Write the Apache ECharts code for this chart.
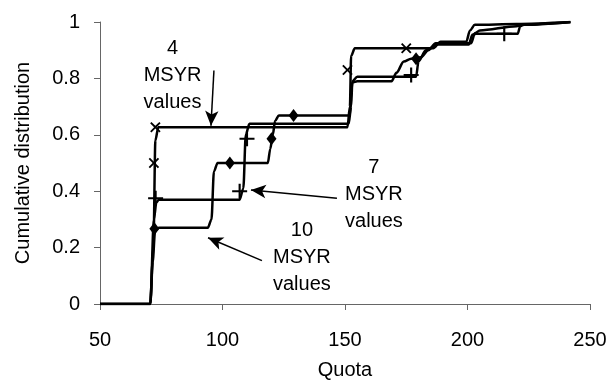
<!DOCTYPE html>
<html>
<head>
<meta charset="utf-8">
<script src="https://cdn.jsdelivr.net/npm/echarts@6/dist/echarts.min.js"></script>
<style>
  html, body { margin: 0; padding: 0; background: #fff; }
  #chart { width: 612px; height: 385px; }
</style>
</head>
<body>
<div id="chart"></div>
<script>
// x ticks 50..250, y ticks 0..1
var xTicks = [50, 100, 150, 200, 250];
var yTicks = [0, 0.2, 0.4, 0.6, 0.8, 1];

// cumulative distributions [quota, probability]
var curve4 = [[50,0],[70.5,0],[71.8,0.2],[72.6,0.58],[73.8,0.627],[151,0.627],[152,0.7],[152.5,0.88],[154,0.907],[186,0.907],[189,0.93],[199.5,0.93],[201,0.97],[203,0.99],[220,0.993],[242,1]];
var curve7 = [[50,0],[70.5,0],[72,0.3],[73,0.36],[74,0.37],[107,0.37],[108.5,0.41],[109.5,0.6],[111,0.639],[151.5,0.639],[152.5,0.7],[153,0.79],[155,0.806],[179,0.806],[180,0.86],[183,0.9],[188,0.92],[200.5,0.92],[202,0.955],[203.5,0.958],[220.5,0.958],[221.5,0.985],[223,0.99],[242,1]];
var curve10 = [[50,0],[70.5,0],[71.5,0.15],[72.5,0.26],[74,0.27],[94,0.27],[95.5,0.3],[96.5,0.47],[98,0.5],[118.5,0.5],[119.5,0.55],[120.5,0.6],[121.5,0.65],[123,0.668],[152,0.668],[152.5,0.75],[153,0.785],[155,0.79],[169,0.79],[171,0.82],[174,0.86],[177,0.87],[181,0.875],[184,0.9],[187,0.925],[201.5,0.925],[203,0.96],[205,0.97],[220,0.985],[222,0.99],[242,1]];

// marker points
var marks4 = [[72.6,0.627],[72,0.5],[151,0.83],[175,0.907]];
var marks7 = [[72.7,0.375],[107,0.4],[110,0.586],[177,0.812],[215,0.958]];
var marks10 = [[72.2,0.267],[103,0.5],[120,0.586],[129,0.668],[179,0.87]];

// annotations
var noteLabels = ['4\nMSYR\nvalues', '7\nMSYR\nvalues', '10\nMSYR\nvalues'];
var notePos = [[79.6,0.81],[161.8,0.39],[132.4,0.165]];
var arrows = [
  [[96.5,0.828],[95.3,0.632]],
  [[146.7,0.375],[111.6,0.404]],
  [[116.1,0.154],[94.1,0.235]]
];

var plusPath = 'path://M-1,-7H1V-1H7V1H1V7H-1V1H-7V-1H-1Z';
var font = 'Liberation Sans, Arial, sans-serif';

var chart = echarts.init(document.getElementById('chart'));

function curveSeries(data) {
  return {
    type: 'line',
    data: data,
    showSymbol: false,
    smooth: 0.3,
    smoothMonotone: 'x',
    lineStyle: { color: '#000', width: 2.5 },
    silent: true,
    z: 2
  };
}

var option = {
  backgroundColor: '#fff',
  animation: false,
  textStyle: { fontFamily: font },
  grid: { left: 100, right: 22, top: 22, bottom: 78 },
  xAxis: {
    type: 'value',
    min: xTicks[0],
    max: xTicks[xTicks.length - 1],
    interval: 50,
    name: 'Quota',
    nameLocation: 'middle',
    nameGap: 56,
    nameTextStyle: { fontSize: 20, color: '#000', fontFamily: font },
    axisLine: { lineStyle: { color: '#666', width: 1 } },
    axisTick: { show: true, length: 6, lineStyle: { color: '#666' } },
    axisLabel: { fontSize: 20, color: '#000', margin: 26, fontFamily: font },
    splitLine: { show: false }
  },
  yAxis: {
    type: 'value',
    min: yTicks[0],
    max: yTicks[yTicks.length - 1],
    interval: 0.2,
    name: 'Cumulative distribution',
    nameLocation: 'middle',
    nameGap: 67,
    nameTextStyle: { fontSize: 20, color: '#000', fontFamily: font },
    axisLine: { show: true, lineStyle: { color: '#666', width: 1 } },
    axisTick: { show: true, length: 6, lineStyle: { color: '#666' } },
    axisLabel: { fontSize: 20, color: '#000', margin: 20, fontFamily: font },
    splitLine: { show: false }
  },
  series: [
    curveSeries(curve4),
    curveSeries(curve7),
    curveSeries(curve10),
    {
      type: 'scatter',
      data: marks4,
      symbol: plusPath,
      symbolRotate: 45,
      symbolSize: 13,
      itemStyle: { color: '#000', opacity: 1 },
      z: 3
    },
    {
      type: 'scatter',
      data: marks7,
      symbol: plusPath,
      symbolSize: 15,
      itemStyle: { color: '#000', opacity: 1 },
      z: 3
    },
    {
      type: 'scatter',
      data: marks10,
      symbol: 'diamond',
      symbolSize: [10, 13],
      itemStyle: { color: '#000', opacity: 1 },
      z: 3
    },
    {
      type: 'scatter',
      data: notePos.map(function (p, i) { return { value: p, name: noteLabels[i] }; }),
      symbolSize: 0,
      itemStyle: { opacity: 1 },
      label: {
        show: true,
        position: 'inside',
        formatter: function (p) { return p.name; },
        fontSize: 20,
        lineHeight: 27,
        color: '#000',
        textBorderWidth: 0,
        fontFamily: font,
        align: 'center',
        verticalAlign: 'middle'
      },
      silent: true,
      markLine: {
        silent: true,
        symbol: ['none', 'arrow'],
        symbolSize: [10, 15],
        label: { show: false },
        lineStyle: { color: '#000', width: 1.5, type: 'solid' },
        data: arrows.map(function (a) {
          return [{ coord: a[0] }, { coord: a[1] }];
        })
      },
      z: 4
    }
  ]
};

chart.setOption(option);
</script>
</body>
</html>
